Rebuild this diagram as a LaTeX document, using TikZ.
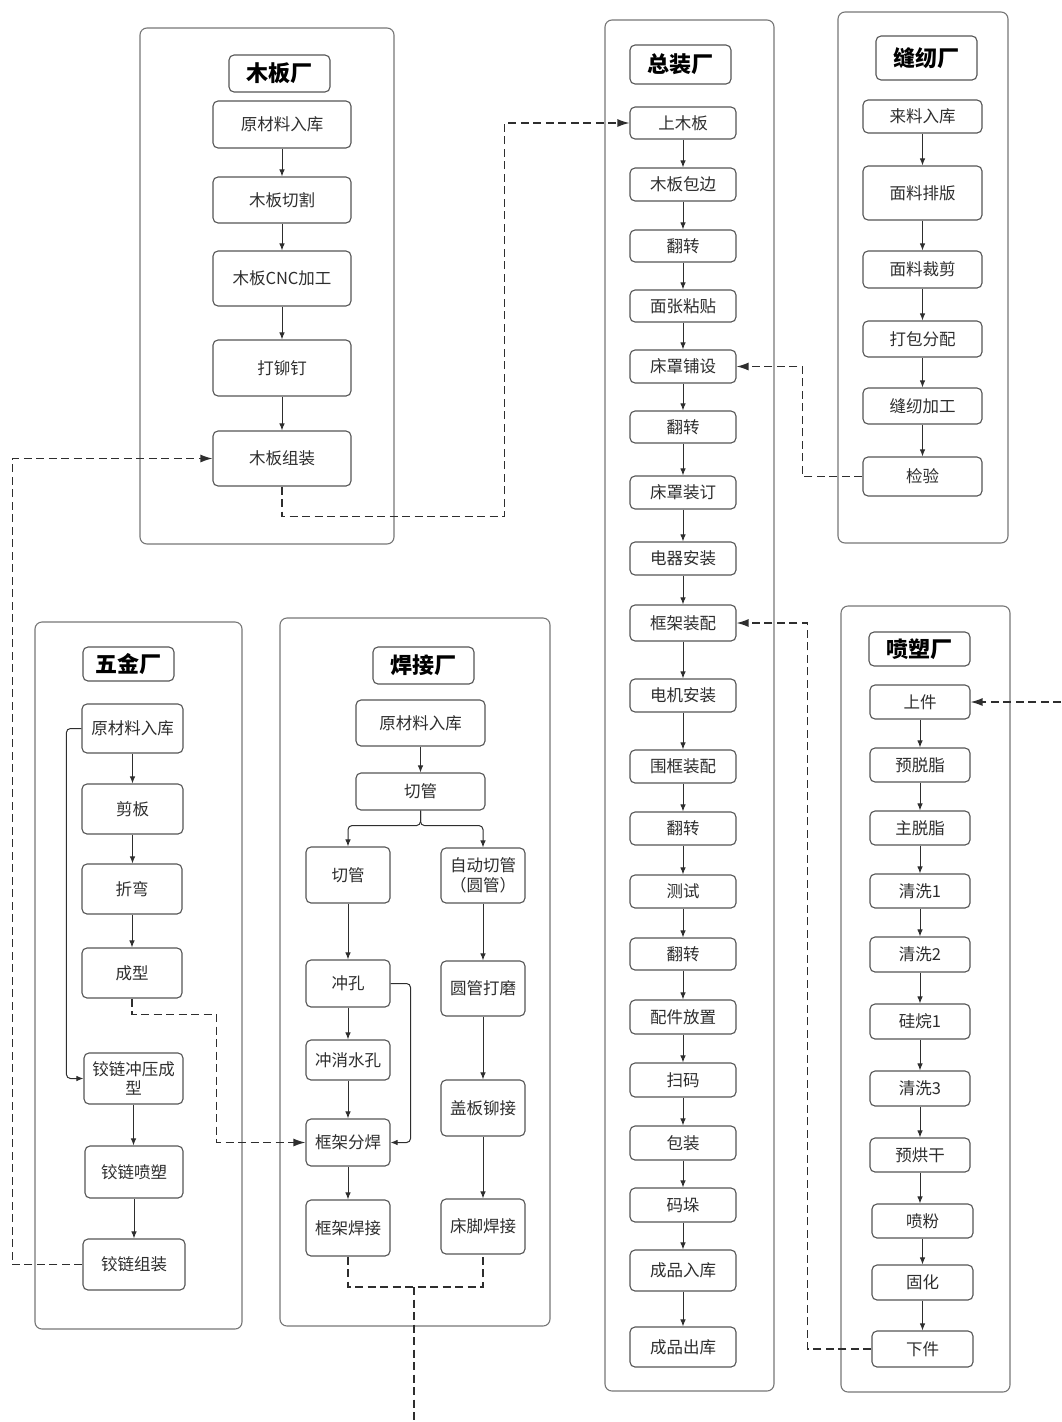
\documentclass[tikz,border=0pt]{standalone}
\usepackage{fontspec}
\setmainfont{Noto Sans CJK SC}
\usetikzlibrary{arrows.meta}
\definecolor{ink}{HTML}{2E2E2E}
\definecolor{edge}{HTML}{555555}
\definecolor{frame}{HTML}{767676}
\tikzset{
  proc/.style={draw=edge, line width=1.1pt, rounded corners=5pt, fill=white,
    text=ink, font=\fontsize{16.5}{19.5}\selectfont, inner sep=0pt, align=center},
  ptitle/.style={proc, font=\fontsize{22}{26}\selectfont\bfseries, text=black},
  plant/.style={draw=frame, line width=1.1pt, rounded corners=7pt},
  flow/.style={draw=ink, line width=1pt, -{Latex[length=7pt,width=5.5pt]}},
  link/.style={draw=ink, line width=1.3pt, dash pattern=on 8pt off 4.5pt,
    -{Latex[length=12pt,width=8pt]}},
  linkplain/.style={draw=ink, line width=1.3pt, dash pattern=on 8pt off 4.5pt},
}
% \bx[style]{name}{x1}{y1}{x2}{y2}{text}: box from its corner coordinates
\newcommand{\bx}[7][proc]{%
  \node[#1, minimum width={(#5-#3)*1pt}, minimum height={(#6-#4)*1pt}]
    (#2) at ({(#3+#5)/2},{(#4+#6)/2}) {#7};}
\begin{document}
\begin{tikzpicture}[x=1pt,y=-1pt]
\useasboundingbox (0,0) rectangle (1061,1422);

% ---------- plant frames ----------
\bx[plant]{Wplant}{140}{28}{394}{544}{}
\bx[plant]{Aplant}{605}{20}{774}{1391}{}
\bx[plant]{Splant}{838}{12}{1008}{543}{}
\bx[plant]{Pplant}{841}{606}{1010}{1392}{}
\bx[plant]{Hplant}{35}{622}{242}{1329}{}
\bx[plant]{Gplant}{280}{618}{550}{1326}{}

% ---------- wood board plant ----------
\bx[ptitle]{Wt}{229}{55}{330}{92}{木板厂}
\bx{w1}{213}{101}{351}{148}{原材料入库}
\bx{w2}{213}{177}{351}{223}{木板切割}
\bx{w3}{213}{251}{351}{306}{木板CNC加工}
\bx{w4}{213}{340}{351}{396}{打铆钉}
\bx{w5}{213}{431}{351}{486}{木板组装}

% ---------- final assembly plant ----------
\bx[ptitle]{At}{630}{45}{731}{84}{总装厂}
\bx{a1}{630}{107}{736}{139}{上木板}
\bx{a2}{630}{168}{736}{201}{木板包边}
\bx{a3}{630}{230}{736}{262}{翻转}
\bx{a4}{630}{290}{736}{322}{面张粘贴}
\bx{a5}{630}{350}{736}{383}{床罩铺设}
\bx{a6}{630}{411}{736}{443}{翻转}
\bx{a7}{630}{476}{736}{509}{床罩装订}
\bx{a8}{630}{542}{736}{575}{电器安装}
\bx{a9}{630}{605}{736}{641}{框架装配}
\bx{a10}{630}{679}{736}{712}{电机安装}
\bx{a11}{630}{750}{736}{783}{围框装配}
\bx{a12}{630}{812}{736}{845}{翻转}
\bx{a13}{630}{875}{736}{908}{测试}
\bx{a14}{630}{938}{736}{970}{翻转}
\bx{a15}{630}{1000}{736}{1034}{配件放置}
\bx{a16}{630}{1063}{736}{1097}{扫码}
\bx{a17}{630}{1126}{736}{1160}{包装}
\bx{a18}{630}{1188}{736}{1222}{码垛}
\bx{a19}{630}{1250}{736}{1291}{成品入库}
\bx{a20}{630}{1327}{736}{1367}{成品出库}

% ---------- sewing plant ----------
\bx[ptitle]{St}{876}{36}{977}{80}{缝纫厂}
\bx{s1}{863}{100}{982}{133}{来料入库}
\bx{s2}{863}{166}{982}{220}{面料排版}
\bx{s3}{863}{251}{982}{288}{面料裁剪}
\bx{s4}{863}{321}{982}{357}{打包分配}
\bx{s5}{863}{388}{982}{424}{缝纫加工}
\bx{s6}{863}{457}{982}{496}{检验}

% ---------- powder coating plant ----------
\bx[ptitle]{Pt}{869}{632}{970}{666}{喷塑厂}
\bx{p1}{870}{685}{970}{719}{上件}
\bx{p2}{870}{748}{970}{782}{预脱脂}
\bx{p3}{870}{811}{970}{845}{主脱脂}
\bx{p4}{870}{874}{970}{908}{清洗1}
\bx{p5}{870}{937}{970}{972}{清洗2}
\bx{p6}{870}{1004}{970}{1039}{硅烷1}
\bx{p7}{870}{1071}{970}{1106}{清洗3}
\bx{p8}{870}{1138}{970}{1172}{预烘干}
\bx{p9}{872}{1204}{973}{1238}{喷粉}
\bx{p10}{872}{1265}{973}{1300}{固化}
\bx{p11}{872}{1331}{973}{1367}{下件}

% ---------- hardware plant ----------
\bx[ptitle]{Ht}{83}{647}{174}{681}{五金厂}
\bx{h1}{82}{704}{183}{753}{原材料入库}
\bx{h2}{82}{784}{183}{834}{剪板}
\bx{h3}{82}{864}{182}{914}{折弯}
\bx{h4}{82}{948}{182}{998}{成型}
\bx{h5}{84}{1053}{183}{1104}{铰链冲压成\\型}
\bx{h6}{85}{1146}{183}{1198}{铰链喷塑}
\bx{h7}{83}{1239}{185}{1290}{铰链组装}

% ---------- welding plant ----------
\bx[ptitle]{Gt}{373}{647}{474}{684}{焊接厂}
\bx{g1}{356}{700}{485}{746}{原材料入库}
\bx{g2}{356}{773}{485}{810}{切管}
\bx{g3}{306}{847}{390}{903}{切管}
\bx{g4}{441}{848}{525}{903}{自动切管\\（圆管）}
\bx{g5}{306}{960}{390}{1007}{冲孔}
\bx{g6}{441}{961}{525}{1016}{圆管打磨}
\bx{g7}{306}{1040}{390}{1080}{冲消水孔}
\bx{g8}{441}{1080}{525}{1136}{盖板铆接}
\bx{g9}{306}{1119}{390}{1166}{框架分焊}
\bx{g10}{306}{1200}{390}{1256}{框架焊接}
\bx{g11}{441}{1199}{525}{1254}{床脚焊接}

% ---------- flows inside each plant ----------
\foreach \u/\v in {w1/w2,w2/w3,w3/w4,w4/w5,
  a1/a2,a2/a3,a3/a4,a4/a5,a5/a6,a6/a7,a7/a8,a8/a9,a9/a10,a10/a11,
  a11/a12,a12/a13,a13/a14,a14/a15,a15/a16,a16/a17,a17/a18,a18/a19,a19/a20,
  s1/s2,s2/s3,s3/s4,s4/s5,s5/s6,
  p1/p2,p2/p3,p3/p4,p4/p5,p5/p6,p6/p7,p7/p8,p8/p9,p9/p10,p10/p11,
  h1/h2,h2/h3,h3/h4,h5/h6,h6/h7,
  g1/g2,g3/g5,g5/g7,g7/g9,g9/g10,g4/g6,g6/g8,g8/g11}
  \draw[flow] (\u.south) -- (\u.south |- \v.north);

% split after the first tube cutting
\draw[flow, rounded corners=4pt] (g2.south) -- ++(0,15) -| (g3.north);
\draw[flow, rounded corners=4pt] (g2.south) -- ++(0,15) -| (g4.north);
% punched parts go straight to frame sub-welding
\draw[flow, rounded corners=4pt] (g5.east) -| ([xshift=20pt]g9.east) -- (g9.east);
% raw material straight to hinge stamping
\draw[flow, rounded corners=4pt] (h1.west) -| ([xshift=-17pt]h5.west) -- (h5.west);

% ---------- transfers between plants ----------
\draw[link] (w5.south) -- ++(0,30) -| ([xshift=-125pt]a1.west) -- (a1.west);
\draw[link] (h7.west) -| ([xshift=-200pt]w5.west) -- (w5.west);
\draw[link] (s6.west) -| ([xshift=66pt]a5.east) -- (a5.east);
\draw[link] (p11.west) -| ([xshift=71pt]a9.east) -- (a9.east);
\draw[link] (h4.south) -- ++(0,16) -| ([xshift=-89pt]g9.west) -- (g9.west);
\coordinate (pin) at (1061,702);
\draw[link] (pin) -- (p1.east);
\coordinate (gjoin) at (414,1287);
\coordinate (gout) at (414,1422);
\draw[linkplain] (g10.south) |- (gjoin) -| (g11.south);
\draw[linkplain] (gjoin) -- (gout);
\end{tikzpicture}
\end{document}
